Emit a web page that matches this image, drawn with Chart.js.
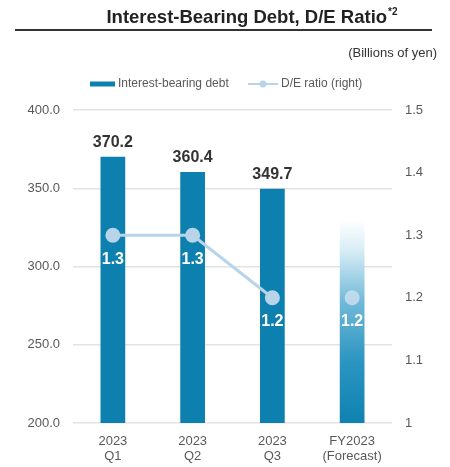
<!DOCTYPE html>
<html>
<head>
<meta charset="utf-8">
<script src="https://cdn.jsdelivr.net/npm/chart.js@4.4.1/dist/chart.umd.min.js"></script>
<style>
  html, body { margin: 0; padding: 0; background: #fff; }
  #wrap { width: 450px; height: 467px; }
</style>
</head>
<body>
<div id="wrap"><canvas id="debtChart" width="450" height="467"></canvas></div>
<script>
// Interest-bearing debt (billions of yen) and D/E ratio per period
const periods = [["2023", "Q1"], ["2023", "Q2"], ["2023", "Q3"], ["FY2023", "(Forecast)"]];
const debtValues = [370.2, 360.4, 349.7, 330];
const debtLabelShown = [true, true, true, false];
const deRatio = [1.3, 1.3, 1.2, 1.2];
const debtTicks = [200, 250, 300, 350, 400];
const ratioTicks = [1, 1.1, 1.2, 1.3, 1.4, 1.5];

const FONT = '"Liberation Sans", Arial, sans-serif';
const BAR_BLUE = "#0d80b0";
const LINE_BLUE = "#b8d4e8";
const TICK_GREY = "#595959";

// forecast bar fades out towards the top
function barColor(ctx) {
    if (ctx.dataIndex !== 3) return BAR_BLUE;
    const chart = ctx.chart;
    const area = chart.chartArea;
    if (!area) return BAR_BLUE;
    const top = chart.scales.y.getPixelForValue(debtValues[3]);
    const g = chart.ctx.createLinearGradient(0, top, 0, area.bottom);
    g.addColorStop(0, "#ffffff");
    g.addColorStop(0.15, "#d8edf6");
    g.addColorStop(0.4, "#72bad8");
    g.addColorStop(0.7, "#2b95c1");
    g.addColorStop(1, "#0f82b1");
    return g;
}

const decorations = {
    id: "decorations",
    afterDatasetsDraw(chart) {
        const ctx = chart.ctx;
        const points = chart.getDatasetMeta(0).data;
        const bars = chart.getDatasetMeta(1).data;
        ctx.save();
        ctx.textAlign = "center";
        ctx.textBaseline = "middle";
        ctx.font = "bold 16px " + FONT;
        ctx.fillStyle = "#333333";
        bars.forEach((bar, i) => {
            if (debtLabelShown[i]) ctx.fillText(debtValues[i].toFixed(1), bar.x, bar.y - 14);
        });
        ctx.fillStyle = "#ffffff";
        points.forEach((pt, i) => ctx.fillText(deRatio[i].toFixed(1), pt.x, pt.y + 24));
        ctx.restore();
    },
    afterDraw(chart) {
        const ctx = chart.ctx;
        ctx.save();

        // heading with footnote mark
        const main = "Interest-Bearing Debt, D/E Ratio";
        const note = "*2";
        ctx.textBaseline = "middle";
        ctx.textAlign = "left";
        ctx.font = "bold 18.5px " + FONT;
        const wMain = ctx.measureText(main).width;
        ctx.font = "bold 10px " + FONT;
        const wNote = ctx.measureText(note).width;
        const x0 = 252 - (wMain + wNote + 1) / 2;
        ctx.fillStyle = "#222222";
        ctx.font = "bold 18.5px " + FONT;
        ctx.fillText(main, x0, 18);
        ctx.font = "bold 10px " + FONT;
        ctx.fillText(note, x0 + wMain + 1, 12);

        // rule under the heading
        ctx.strokeStyle = "#333333";
        ctx.lineWidth = 2;
        ctx.beginPath();
        ctx.moveTo(15, 30);
        ctx.lineTo(432, 30);
        ctx.stroke();

        // unit
        ctx.font = "13px " + FONT;
        ctx.textAlign = "right";
        ctx.fillStyle = "#333333";
        ctx.fillText("(Billions of yen)", 437, 53);

        // legend
        const ly = 84;
        ctx.textAlign = "left";
        ctx.font = "12px " + FONT;
        ctx.fillStyle = BAR_BLUE;
        ctx.fillRect(90, ly - 2.5, 25, 5);
        ctx.fillStyle = TICK_GREY;
        ctx.fillText("Interest-bearing debt", 118, ly);
        ctx.strokeStyle = LINE_BLUE;
        ctx.lineWidth = 2;
        ctx.beginPath();
        ctx.moveTo(248, ly);
        ctx.lineTo(278, ly);
        ctx.stroke();
        ctx.fillStyle = LINE_BLUE;
        ctx.beginPath();
        ctx.arc(263, ly, 3.5, 0, Math.PI * 2);
        ctx.fill();
        ctx.fillStyle = TICK_GREY;
        ctx.fillText("D/E ratio (right)", 281, ly);

        ctx.restore();
    }
};

new Chart(document.getElementById("debtChart").getContext("2d"), {
    data: {
        labels: periods,
        datasets: [{
            type: "line",
            label: "D/E ratio (right)",
            data: deRatio,
            yAxisID: "y1",
            order: 1,
            borderColor: LINE_BLUE,
            borderWidth: 3,
            pointRadius: 7.5,
            pointBorderWidth: 0,
            pointBackgroundColor: (ctx) => ctx.dataIndex === 3 ? "rgba(205,225,240,0.8)" : LINE_BLUE,
            segment: {
                borderColor: (ctx) => ctx.p1DataIndex === 3 ? "rgba(0,0,0,0)" : LINE_BLUE
            }
        }, {
            type: "bar",
            label: "Interest-bearing debt",
            data: debtValues,
            yAxisID: "y",
            order: 2,
            backgroundColor: barColor,
            barPercentage: 0.31,
            categoryPercentage: 1
        }]
    },
    options: {
        responsive: false,
        animation: false,
        layout: { padding: { top: 110, left: 0, right: 0, bottom: 0 } },
        plugins: {
            legend: { display: false },
            tooltip: { enabled: false }
        },
        scales: {
            x: {
                grid: { display: false },
                border: { display: false },
                ticks: {
                    color: TICK_GREY,
                    font: { family: FONT, size: 13, lineHeight: 1.15 },
                    padding: 3,
                    maxRotation: 0
                },
                afterFit: (s) => { s.height = 44; }
            },
            y: {
                position: "left",
                min: debtTicks[0],
                max: debtTicks[debtTicks.length - 1],
                afterBuildTicks: (s) => { s.ticks = debtTicks.map(v => ({ value: v })); },
                grid: { color: "#e3e3e3", lineWidth: 1.5, drawTicks: false },
                border: { display: false },
                ticks: {
                    color: TICK_GREY,
                    font: { family: FONT, size: 13 },
                    padding: 13,
                    callback: (v) => Number(v).toFixed(1)
                },
                afterFit: (s) => { s.width = 73; }
            },
            y1: {
                position: "right",
                min: ratioTicks[0],
                max: ratioTicks[ratioTicks.length - 1],
                afterBuildTicks: (s) => { s.ticks = ratioTicks.map(v => ({ value: v })); },
                grid: { display: false, drawTicks: false },
                border: { display: false },
                ticks: {
                    color: TICK_GREY,
                    font: { family: FONT, size: 13 },
                    padding: 13,
                    callback: (v) => String(Math.round(v * 10) / 10)
                },
                afterFit: (s) => { s.width = 58; }
            }
        }
    },
    plugins: [decorations]
});
</script>
</body>
</html>
